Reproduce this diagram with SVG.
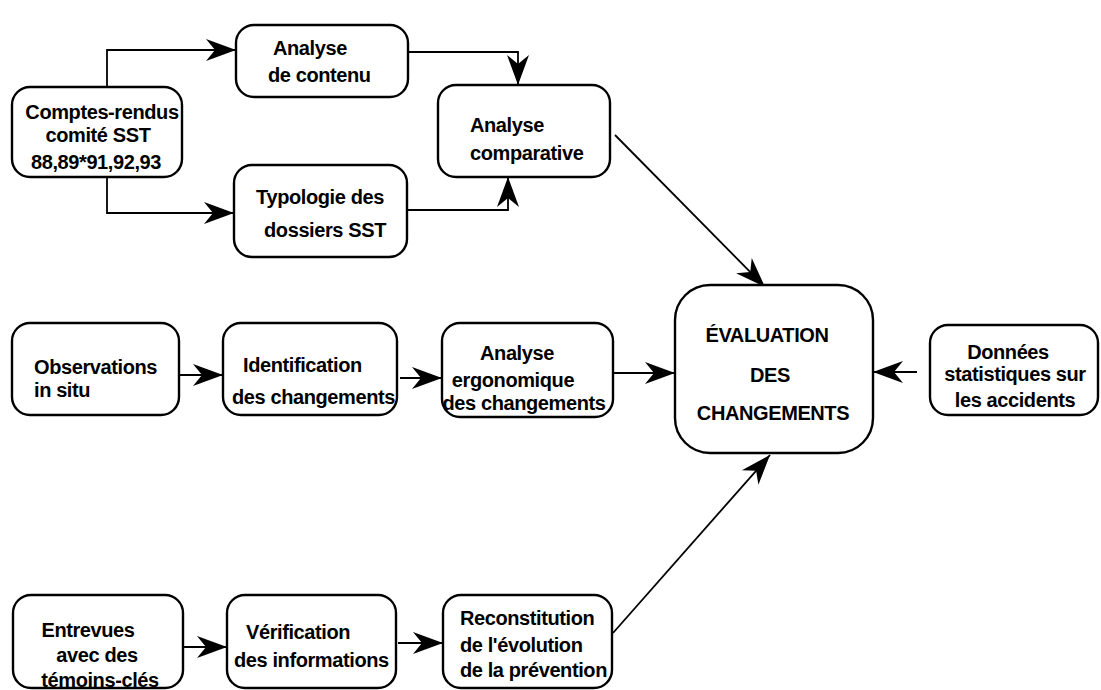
<svg xmlns="http://www.w3.org/2000/svg" width="1101" height="690" viewBox="0 0 1101 690">
<style>
.box{fill:#fff;stroke:#000;stroke-width:2.4}
.t{font-family:"Liberation Sans",Arial,sans-serif;font-size:20px;font-weight:bold;fill:#000;letter-spacing:-0.4px}
.m{text-anchor:middle}
.c{fill:none;stroke:#000;stroke-width:1.8}
</style>
<defs>
<marker id="ah" viewBox="-32 -13 34 26" markerWidth="34" markerHeight="26" refX="0" refY="0" orient="auto" markerUnits="userSpaceOnUse">
<path d="M0,0 L-30,-11 L-21,0 L-30,11 Z" fill="#000"/>
</marker>
</defs>
<rect width="1101" height="690" fill="#fff"/>
<g id="connectors">
<path class="c" d="M107,87 V50 H236" marker-end="url(#ah)"/>
<path class="c" d="M107,177 V213 H234" marker-end="url(#ah)"/>
<path class="c" d="M408,52 H518 V85" marker-end="url(#ah)"/>
<path class="c" d="M408,210 H508 V177" marker-end="url(#ah)"/>
<path class="c" d="M615,135 L765,287" marker-end="url(#ah)"/>
<path class="c" d="M179,375 H223" marker-end="url(#ah)"/>
<path class="c" d="M400,378 H442" marker-end="url(#ah)"/>
<path class="c" d="M613,373 H675" marker-end="url(#ah)"/>
<path class="c" d="M917,372 H873" marker-end="url(#ah)"/>
<path class="c" d="M183,647 H227" marker-end="url(#ah)"/>
<path class="c" d="M398,643 H443" marker-end="url(#ah)"/>
<path class="c" d="M613,633 L770,455" marker-end="url(#ah)"/>
</g>
<g id="comptes">
<rect class="box" x="12" y="87" width="170" height="90" rx="18"/>
<text class="t m" x="102" y="119">Comptes-rendus</text>
<text class="t m" x="98" y="142">comité SST</text>
<text class="t m" x="96" y="169">88,89*91,92,93</text>
</g>
<g id="analyse-contenu">
<rect class="box" x="236" y="25" width="172" height="72" rx="18"/>
<text class="t" x="273" y="55">Analyse</text>
<text class="t" x="268" y="82">de contenu</text>
</g>
<g id="typologie">
<rect class="box" x="234" y="165" width="173" height="92" rx="18"/>
<text class="t m" x="320" y="204">Typologie des</text>
<text class="t m" x="325" y="237">dossiers  SST</text>
</g>
<g id="analyse-comparative">
<rect class="box" x="438" y="85" width="172" height="92" rx="18"/>
<text class="t" x="470" y="132">Analyse</text>
<text class="t" x="470" y="160">comparative</text>
</g>
<g id="observations">
<rect class="box" x="12" y="323" width="167" height="92" rx="18"/>
<text class="t" x="34" y="374">Observations</text>
<text class="t" x="34" y="397">in situ</text>
</g>
<g id="identification">
<rect class="box" x="223" y="323" width="174" height="92" rx="18"/>
<text class="t" x="243" y="372">Identification</text>
<text class="t" x="232" y="404">des changements</text>
</g>
<g id="analyse-ergonomique">
<rect class="box" x="442" y="323" width="171" height="94" rx="18"/>
<text class="t m" x="517" y="360">Analyse</text>
<text class="t m" x="513" y="387">ergonomique</text>
<text class="t m" x="524" y="410">des changements</text>
</g>
<g id="evaluation">
<rect class="box" x="675" y="285" width="198" height="168" rx="35"/>
<text class="t m" x="767" y="342">ÉVALUATION</text>
<text class="t m" x="770" y="382">DES</text>
<text class="t m" x="773" y="420">CHANGEMENTS</text>
</g>
<g id="donnees">
<rect class="box" x="930" y="325" width="168" height="90" rx="18"/>
<text class="t m" x="1008" y="359">Données</text>
<text class="t m" x="1015" y="381">statistiques sur</text>
<text class="t m" x="1015" y="407">les accidents</text>
</g>
<g id="entrevues">
<rect class="box" x="13" y="595" width="170" height="93" rx="18"/>
<text class="t m" x="88" y="637">Entrevues</text>
<text class="t m" x="97" y="662">avec des</text>
<text class="t m" x="100" y="687">témoins-clés</text>
</g>
<g id="verification">
<rect class="box" x="227" y="595" width="169" height="93" rx="18"/>
<text class="t" x="246" y="639">Vérification</text>
<text class="t" x="234" y="667">des informations</text>
</g>
<g id="reconstitution">
<rect class="box" x="443" y="595" width="169" height="93" rx="18"/>
<text class="t" x="460" y="625">Reconstitution</text>
<text class="t" x="460" y="652">de l'évolution</text>
<text class="t" x="460" y="677">de la prévention</text>
</g>
</svg>
